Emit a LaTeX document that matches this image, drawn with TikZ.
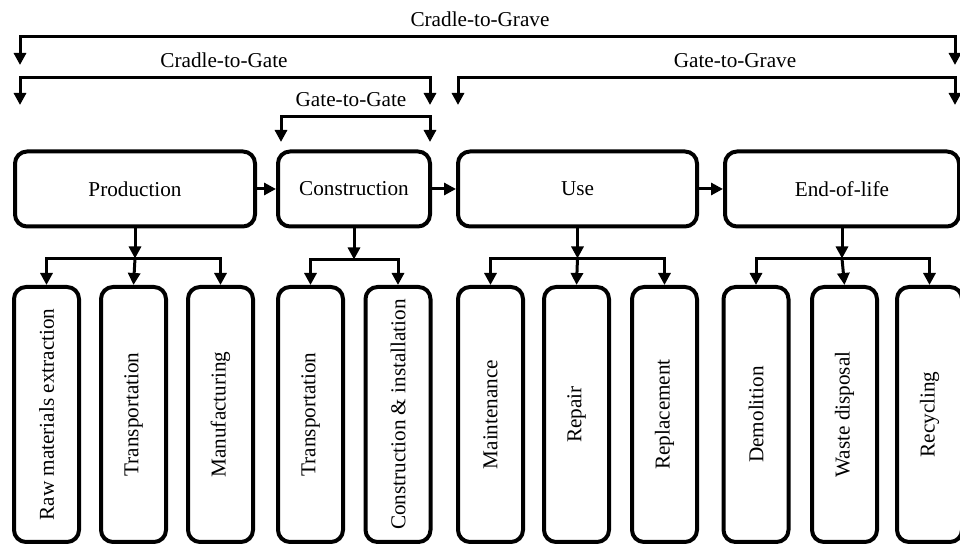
\documentclass[tikz,border=0pt]{standalone}
\usepackage{fontspec}
\setmainfont{Liberation Serif}
\usetikzlibrary{arrows.meta,positioning}

\tikzset{
  stage/.style={draw, line width=2pt, rounded corners=6pt, minimum height=37.5pt, inner sep=0pt,
    font=\fontsize{10.6}{12}\selectfont},
  substage/.style={draw, line width=2pt, rounded corners=6pt, minimum width=32.5pt, minimum height=127.5pt,
    inner sep=0pt, font=\fontsize{10.6}{12}\selectfont},
  scopelabel/.style={font=\fontsize{10.6}{12}\selectfont, inner sep=5pt, anchor=south},
  flow/.style={line width=1.5pt, -{Triangle[length=6pt,width=6pt]}},
  boundary/.style={line width=1.5pt, {Triangle[length=6pt,width=6pt]}-{Triangle[length=6pt,width=6pt]}},
}

\begin{document}
\begin{tikzpicture}[x=0.5pt,y=-0.5pt]
        \useasboundingbox (0,0) rectangle (960,544);

        % life cycle stages
        \node[stage, minimum width=120pt] (prod) at (135,189) {Production};
        \node[stage, minimum width=76pt] (cons) at (354,189) {Construction};
        \node[stage, minimum width=119.5pt] (use) at (577.5,189) {Use};
        \node[stage, minimum width=117pt] (eol) at (842,189) {End-of-life};

        \draw[flow] (prod) -- (cons);
        \draw[flow] (cons) -- (use);
        \draw[flow] (use) -- (eol);

        % processes
        \node[substage] (raw) at (46.5,414.5) {\rotatebox{90}{Raw materials extraction}};
        \node[substage] (transA) at (133.5,414.5) {\rotatebox{90}{Transportation}};
        \node[substage] (manuf) at (220.5,414.5) {\rotatebox{90}{Manufacturing}};
        \node[substage] (transB) at (310.5,414.5) {\rotatebox{90}{Transportation}};
        \node[substage] (install) at (398,414.5) {\rotatebox{90}{Construction \& installation}};
        \node[substage] (maint) at (490.5,414.5) {\rotatebox{90}{Maintenance}};
        \node[substage] (repair) at (576.5,414.5) {\rotatebox{90}{Repair}};
        \node[substage] (replace) at (664.5,414.5) {\rotatebox{90}{Replacement}};
        \node[substage] (demol) at (756,414.5) {\rotatebox{90}{Demolition}};
        \node[substage] (waste) at (844.5,414.5) {\rotatebox{90}{Waste disposal}};
        \node[substage] (recyc) at (929.5,414.5) {\rotatebox{90}{Recycling}};

        \coordinate[below=15pt of prod.south] (prodj);
        \draw[flow] (prod.south) -- (prodj);
        \draw[flow] (prodj) -| (raw.north);
        \draw[flow] (prodj) -- (transA.north);
        \draw[flow] (prodj) -| (manuf.north);

        \coordinate[below=15.5pt of cons.south] (consj);
        \draw[flow] (cons.south) -- (consj);
        \draw[flow] (consj) -| (transB.north);
        \draw[flow] (consj) -| (install.north);

        \coordinate[below=15pt of use.south] (usej);
        \draw[flow] (use.south) -- (usej);
        \draw[flow] (usej) -| (maint.north);
        \draw[flow] (usej) -- (repair.north);
        \draw[flow] (usej) -| (replace.north);

        \coordinate[below=15pt of eol.south] (eolj);
        \draw[flow] (eol.south) -- (eolj);
        \draw[flow] (eolj) -| (demol.north);
        \draw[flow] (eolj) -- (waste.north);
        \draw[flow] (eolj) -| (recyc.north);

        % system boundaries
        \node[scopelabel] (cgrave) at (480,37) {Cradle-to-Grave};
        \coordinate (cgraveL) at (20,65);
        \coordinate (cgraveR) at (955,65);
        \draw[boundary] (cgraveL) |- (cgrave.south) -| (cgraveR);

        \node[scopelabel] (cgate) at (224,78) {Cradle-to-Gate};
        \coordinate (cgateL) at (20,105);
        \coordinate (cgateR) at (430,105);
        \draw[boundary] (cgateL) |- (cgate.south) -| (cgateR);

        \node[scopelabel] (ggrave) at (735,78) {Gate-to-Grave};
        \coordinate (ggraveL) at (458,105);
        \coordinate (ggraveR) at (955,105);
        \draw[boundary] (ggraveL) |- (ggrave.south) -| (ggraveR);

        \node[scopelabel] (ggate) at (351,117) {Gate-to-Gate};
        \coordinate (ggateL) at (281,142);
        \coordinate (ggateR) at (430,142);
        \draw[boundary] (ggateL) |- (ggate.south) -| (ggateR);

    \end{tikzpicture}
\end{document}
